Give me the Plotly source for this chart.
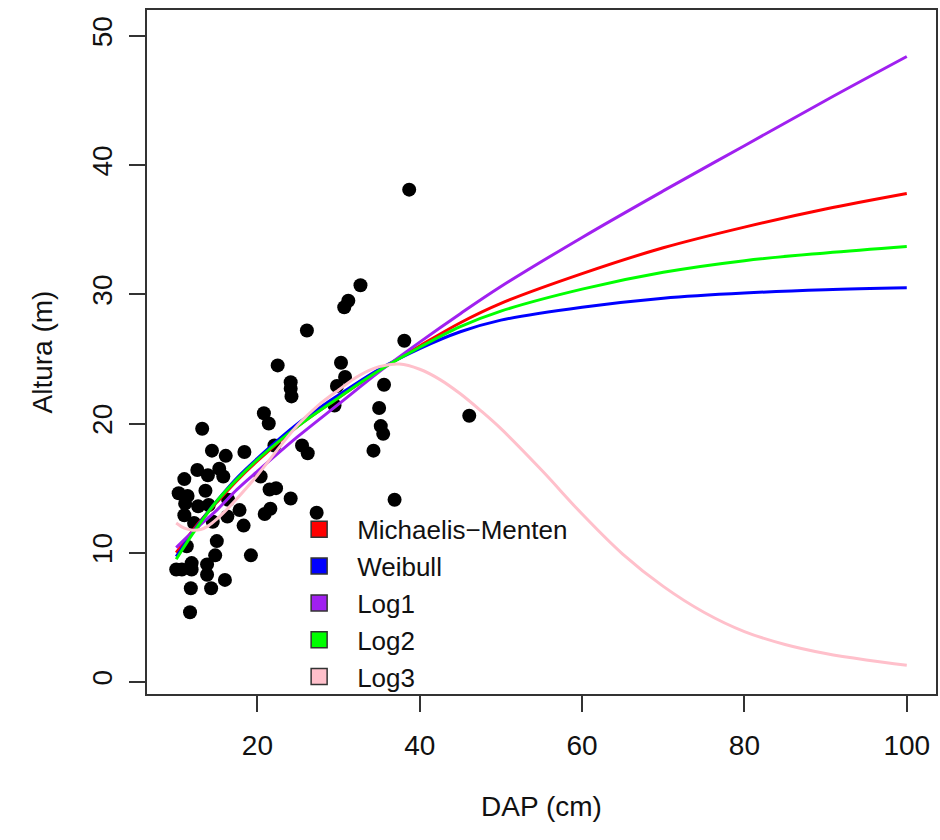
import plotly.graph_objects as go

# ---- observed trees (DAP cm, Altura m) ----
dap = [38.7, 32.7, 31.2, 30.7, 26.1, 38.1, 22.5, 30.3, 24.1, 24.1, 24.2, 30.8,
       29.8, 29.5, 35.6, 35.0, 35.2, 35.5, 34.3, 36.9, 46.1, 20.8, 21.4, 22.1,
       25.5, 26.2, 18.4, 20.4, 21.5, 22.3, 24.1, 20.9, 21.6, 27.3, 17.8, 18.3,
       13.2, 14.4, 16.1, 12.6, 13.9, 15.3, 15.8, 11.0, 10.3, 11.4, 13.6, 11.1,
       12.7, 14.0, 16.4, 11.0, 12.2, 14.5, 16.3, 15.0, 11.3, 14.8, 19.2, 10.0,
       10.7, 11.9, 11.9, 13.8, 13.8, 16.0, 11.8, 14.3, 11.7]
altura = [38.1, 30.7, 29.5, 29.0, 27.2, 26.4, 24.5, 24.7, 23.2, 22.7, 22.1, 23.6,
          22.9, 21.4, 23.0, 21.2, 19.8, 19.2, 17.9, 14.1, 20.6, 20.8, 20.0, 18.3,
          18.3, 17.7, 17.8, 15.9, 14.9, 15.0, 14.2, 13.0, 13.4, 13.1, 13.3, 12.1,
          19.6, 17.9, 17.5, 16.4, 16.0, 16.5, 15.9, 15.7, 14.6, 14.4, 14.8, 13.8,
          13.6, 13.7, 14.1, 12.9, 12.3, 12.4, 12.8, 10.9, 10.5, 9.8, 9.8, 8.7,
          8.7, 9.2, 8.7, 9.1, 8.3, 7.9, 7.25, 7.25, 5.4]

# ---- fitted curves, values ----
x_fit = [10, 12.5, 15, 17.5, 20, 25, 30, 35, 40, 45, 50, 60, 70, 80, 90, 100]
michaelis = [10.0, 12.1, 13.9, 15.6, 17.1, 19.8, 22.0, 24.1, 26.0, 27.8, 29.3, 31.6, 33.6, 35.2, 36.6, 37.8]
weibull = [9.7, 12.0, 14.0, 15.8, 17.3, 20.0, 22.2, 24.2, 25.8, 27.1, 28.0, 29.0, 29.7, 30.1, 30.35, 30.5]
log1 = [10.4, 11.9, 13.3, 14.9, 16.3, 19.0, 21.5, 24.0, 26.3, 28.5, 30.6, 34.4, 38.0, 41.5, 45.0, 48.4]
log2 = [9.5, 11.9, 14.0, 15.7, 17.2, 19.8, 22.0, 24.1, 25.9, 27.5, 28.7, 30.4, 31.7, 32.6, 33.2, 33.7]

x_log3 = [10, 11, 12, 13, 14, 15, 16, 17.5, 20, 22.5, 25, 27.5, 30, 32.5, 35, 37.5,
          40, 42.5, 45, 47.5, 50, 55, 60, 65, 70, 75, 80, 85, 90, 95, 100]
log3 = [12.3, 11.9, 11.75, 11.8, 12.1, 12.6, 13.2, 14.2, 16.0, 18.0, 19.9, 21.4, 22.6, 23.7, 24.4, 24.6,
        24.2, 23.4, 22.3, 21.0, 19.6, 16.4, 13.0, 9.9, 7.4, 5.4, 3.9, 2.9, 2.2, 1.7, 1.3]

names = ["Michaelis\u2212Menten", "Weibull", "Log1", "Log2", "Log3"]
colors = ["#FF0000", "#0000FF", "#A020F0", "#00FF00", "#FFC0CB"]

FONT = "Liberation Sans, Arial, sans-serif"

fig = go.Figure()
fig.add_trace(go.Scatter(x=dap, y=altura, mode="markers",
                         marker=dict(color="black", size=14),
                         showlegend=False, hoverinfo="skip"))

series = [(x_fit, michaelis), (x_fit, weibull), (x_fit, log1), (x_fit, log2), (x_log3, log3)]
for (xs, ys), c in zip(series, colors):
    fig.add_trace(go.Scatter(x=xs, y=ys, mode="lines",
                             line=dict(color=c, width=3, shape="spline"),
                             showlegend=False))

for n, c in zip(names, colors):
    fig.add_trace(go.Scatter(x=[None], y=[None], mode="markers", name=n,
                             marker=dict(symbol="square", size=18, color=c,
                                         line=dict(color="#333333", width=1.5))))

axis_common = dict(showline=True, mirror=True, linecolor="#333333", linewidth=1.5,
                   ticks="outside", ticklen=16, tickwidth=1.5, tickcolor="#333333",
                   showgrid=False, zeroline=False,
                   tickfont=dict(family=FONT, size=28, color="#111111"))

fig.update_layout(
    width=940, height=840,
    margin=dict(l=147, r=2, t=10, b=146),
    paper_bgcolor="white", plot_bgcolor="white",
    font=dict(family=FONT, size=28, color="#111111"),
    xaxis=dict(range=[6.4, 103.6], tickvals=[20, 40, 60, 80, 100],
               ticklabelstandoff=10,
               title=dict(text="DAP (cm)", font=dict(family=FONT, size=28), standoff=36),
               **axis_common),
    yaxis=dict(range=[-0.93, 52.0], tickvals=[0, 10, 20, 30, 40, 50], tickangle=-90,
               ticklabelstandoff=6,
               title=dict(text="Altura (m)", font=dict(family=FONT, size=28), standoff=26),
               **axis_common),
    legend=dict(x=0.17, y=0.275, xanchor="left", yanchor="top",
                bgcolor="rgba(0,0,0,0)", font=dict(family=FONT, size=26),
                itemsizing="trace", itemwidth=66, tracegroupgap=0),
    showlegend=True,
)

fig.write_html("out.html")
